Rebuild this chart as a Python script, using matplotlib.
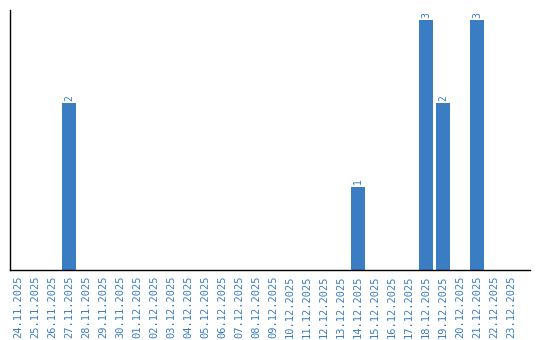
import numpy as np
import pandas as pd
import matplotlib
matplotlib.use("Agg")
import matplotlib.pyplot as plt

# daily counts
dates = pd.date_range("2025-11-24", "2025-12-23", freq="D")
date_labels = [d.strftime("%d.%m.%Y") for d in dates]
counts = [0] * len(dates)
hits = {"27.11.2025": 2, "14.12.2025": 1, "18.12.2025": 3,
        "19.12.2025": 2, "21.12.2025": 3}
for k, v in hits.items():
    counts[date_labels.index(k)] = v

bar_color = "#3a7dc2"
text_color = "#3a7dc2"

fig = plt.figure(figsize=(5.4, 3.4), dpi=100)
ax = fig.add_axes([10 / 540, 70 / 340, 520 / 540, 260 / 340])

x = np.arange(len(dates))
ax.bar(x, counts, width=0.82, color=bar_color)

for xi, c in zip(x, counts):
    if c > 0:
        ax.text(xi, c + 0.03, str(c), rotation=90, ha="center", va="bottom",
                fontsize=7, family="DejaVu Sans Mono", color=text_color)

ax.set_xlim(-0.47, 30.12)
ax.set_ylim(0, 3.12)
ax.set_xticks(x)
ax.set_xticklabels(date_labels, rotation=90, fontsize=7.5,
                   family="DejaVu Sans Mono", color=text_color)
ax.tick_params(axis="x", length=0, pad=4)
ax.set_yticks([])
ax.spines["top"].set_visible(False)
ax.spines["right"].set_visible(False)
ax.spines["left"].set_linewidth(1.0)
ax.spines["bottom"].set_linewidth(1.0)

fig.savefig("out.png", dpi=100)
